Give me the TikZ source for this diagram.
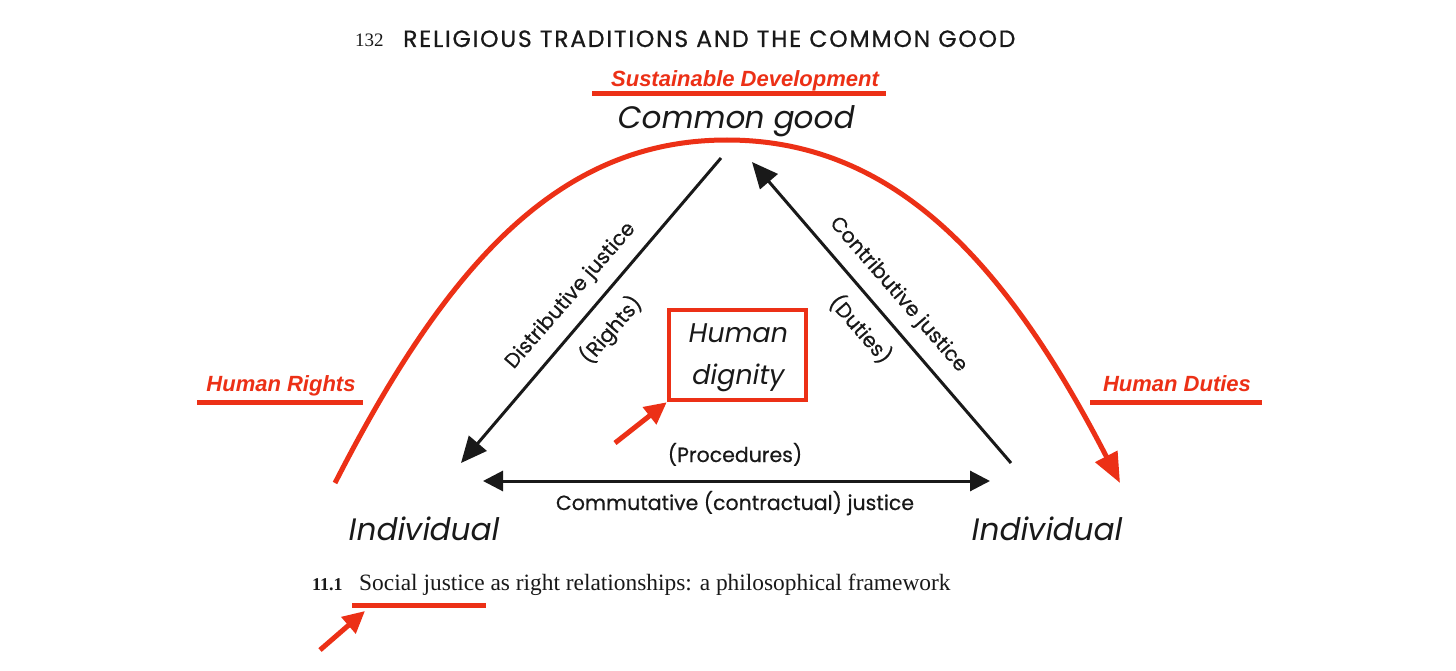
\documentclass[tikz,border=0pt]{standalone}
\usepackage{fontspec}
\setmainfont{Liberation Serif}
\newfontfamily\gotham[FakeBold=0.5]{Poppins}
\newfontfamily\gothamhdr[FakeBold=0.6,LetterSpace=7.5]{Poppins}
\newfontfamily\gothamit[FakeSlant=0.18]{Poppins}
\newfontfamily\redfont{Liberation Sans}
\usetikzlibrary{arrows.meta}
\definecolor{myred}{RGB}{236,48,22}
\definecolor{ink}{RGB}{25,25,25}
\begin{document}
\begin{tikzpicture}[x=1pt,y=-1pt,
  redlab/.style={font=\redfont\bfseries\itshape\fontsize{22}{26}\selectfont, text=myred, inner sep=0pt, anchor=base},
  redline/.style={draw=myred, line width=5pt},
  redarrow/.style={draw=myred, line width=5pt, -{Triangle[length=22pt,width=21pt]}},
  blkarrow/.style={draw=ink, line width=3pt, -{Triangle[length=26pt,width=23pt]}},
  bigit/.style={font=\gothamit\fontsize{31}{36}\selectfont, text=ink, inner sep=0pt, anchor=base},
  lab/.style={font=\gotham\fontsize{20.5}{24}\selectfont, text=ink, inner sep=0pt},
]
\useasboundingbox (0,0) rectangle (1456,671);
\fill[white] (0,0) rectangle (1456,671);

% header
\node[inner sep=0pt, anchor=base west, font=\fontsize{19}{20}\selectfont, text=ink] (pg) at (355,47) {132};
\node[inner sep=0pt, anchor=base west, font=\gothamhdr\fontsize{23.5}{26}\selectfont, text=ink] (hdr) at (403,47) {RELIGIOUS TRADITIONS AND THE COMMON GOOD};

% red labels
\node[redlab] (sd) at (745,87) {Sustainable Development};
\draw[redline] (592,94) coordinate (sdL) -- (886,94) coordinate (sdR);
\node[redlab] (hr) at (281,391) {Human Rights};
\draw[redline] (197,402) coordinate (hrL) -- (363,402) coordinate (hrR);
\node[redlab] (hd) at (1177,391) {Human Duties};
\draw[redline] (1090,402) coordinate (hdL) -- (1262,402) coordinate (hdR);

% main texts
\node[bigit] (cg) at (735,129) {Common good};
\node[bigit] (indL) at (423,540) {Individual};
\node[bigit] (indR) at (1046,540) {Individual};

% red arch
\coordinate (arcL) at (335,483);
\coordinate (arcT) at (727,140);
\coordinate (arcR) at (1120,483);
\draw[redarrow, -{Triangle[length=30pt,width=24pt]}] (arcL) .. controls (448,262) and (560,140) .. (arcT)
   .. controls (894,140) and (1006,262) .. (arcR);

% triangle arrows
\coordinate (dTop) at (721,158);
\coordinate (dTip) at (461,463);
\coordinate (cTail) at (1011,463);
\coordinate (cTip) at (752,162);
\coordinate (bL) at (483,481);
\coordinate (bR) at (990,481);
\draw[blkarrow] (dTop) -- (dTip);
\draw[blkarrow] (cTail) -- (cTip);
\draw[draw=ink, line width=3pt, {Triangle[length=20pt,width=20pt]}-{Triangle[length=20pt,width=20pt]}] (bL) -- (bR);

% edge labels
\node[lab, rotate=49] (dj) at (571,296) {Distributive justice};
\node[lab, rotate=49] (rt) at (611,330) {(Rights)};
\node[lab, rotate=-49] (cj) at (898,295) {Contributive justice};
\node[lab, rotate=-49] (du) at (861,329) {(Duties)};
\node[lab, anchor=base] (pr) at (735,462) {(Procedures)};
\node[lab, anchor=base] (cm) at (735,510) {Commutative (contractual) justice};

% human dignity
\node[draw=myred, line width=4.5pt, minimum width=137pt, minimum height=90pt, inner sep=0pt] (hdbox) at (737.5,355) {};
\node[bigit, font=\gothamit\fontsize{27}{32}\selectfont] (hum) at (737,342) {Human};
\node[bigit, font=\gothamit\fontsize{27}{32}\selectfont] (dig) at (737,384) {dignity};
\coordinate (a1t) at (615,443);
\draw[redarrow] (a1t) -- (hdbox.south west);

% caption
\node[inner sep=0pt, anchor=base west, font=\bfseries\fontsize{18}{20}\selectfont, text=ink] (fig) at (312,590) {11.1};
\node[inner sep=0pt, anchor=base west, font=\fontsize{23.4}{26}\selectfont, text=ink] (cap) at (359,590) {Social justice as right relationships: a philosophical framework};
\draw[redline] (352,605) coordinate (cuL) -- (486,605) coordinate (cuR);
\coordinate (a2t) at (320,650);
\coordinate (a2h) at (365,611);
\draw[redarrow] (a2t) -- (a2h);
\end{tikzpicture}
\end{document}
